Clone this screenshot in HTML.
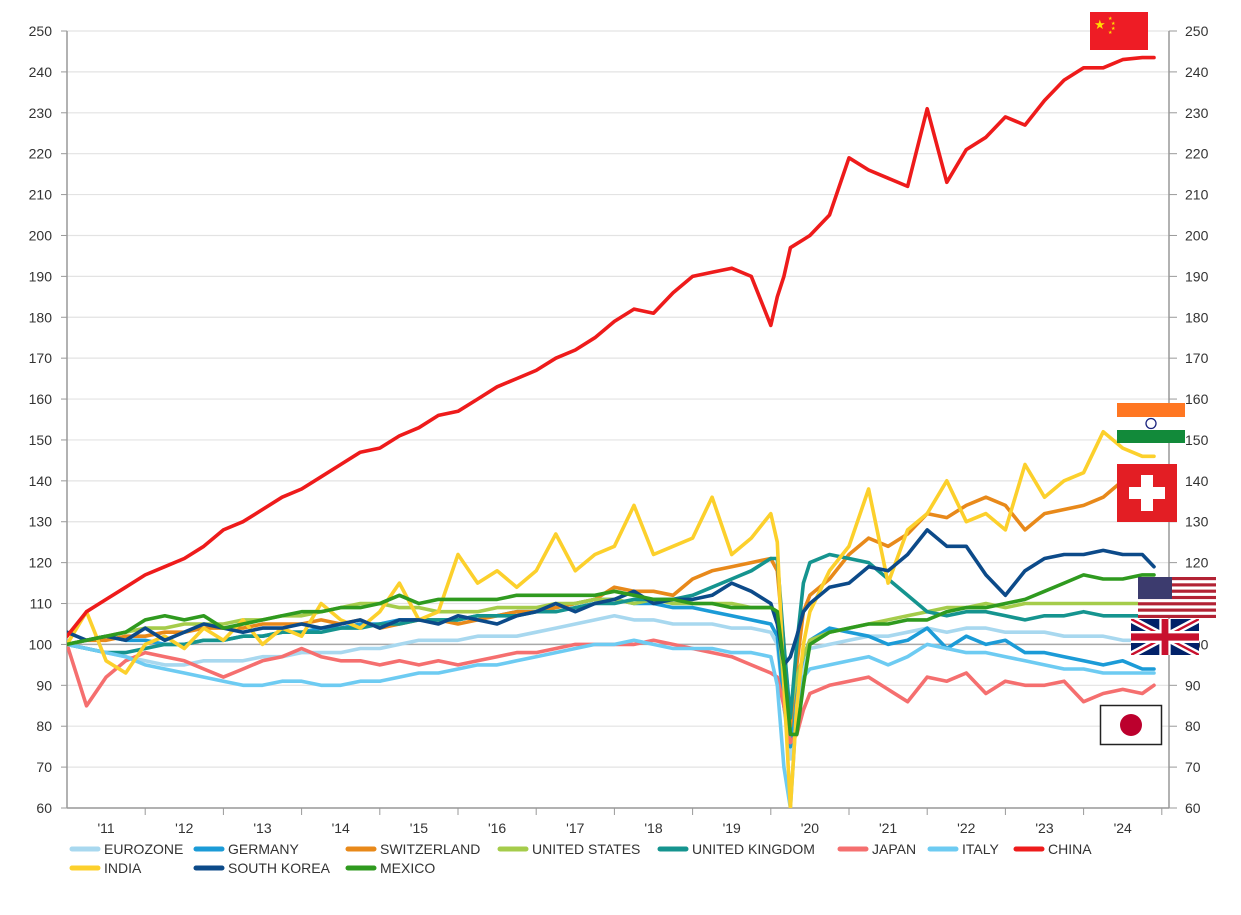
<!DOCTYPE html>
<html><head><meta charset="utf-8"><style>
html,body{margin:0;padding:0;background:#fff;}
svg{display:block;font-family:"Liberation Sans",sans-serif;}
</style></head><body>
<svg id="chart" width="1241" height="915" viewBox="0 0 1241 915">
<g id="grid"></g>
<g id="axes"></g>
<g id="series"></g>
<g id="legend"></g>
<g id="flags">
  <g>
    <rect x="1090" y="12" width="58" height="38" fill="#ee1c25"/>
    <text x="1094" y="29" font-size="13" fill="#ffde00">★</text>
    <text x="1108" y="20" font-size="5" fill="#ffde00">★</text>
    <text x="1111" y="25" font-size="5" fill="#ffde00">★</text>
    <text x="1111" y="30" font-size="5" fill="#ffde00">★</text>
    <text x="1108" y="34" font-size="5" fill="#ffde00">★</text>
  </g>
  <g>
    <rect x="1117" y="403" width="68" height="14" fill="#ff7722"/>
    <rect x="1117" y="417" width="68" height="13" fill="#fff"/>
    <rect x="1117" y="430" width="68" height="13" fill="#128a3a"/>
    <circle cx="1151" cy="423.5" r="5" fill="none" stroke="#1a237e" stroke-width="1.3"/>
  </g>
  <g>
    <rect x="1117" y="464" width="60" height="58" fill="#e31e24"/>
    <rect x="1141" y="475" width="12" height="36" fill="#fff"/>
    <rect x="1129" y="487" width="36" height="12" fill="#fff"/>
  </g>
  <g>
    <rect x="1138" y="577" width="78" height="41" fill="#fff"/>
    <g id="usstripes"></g>
    <rect x="1138" y="577" width="34" height="22" fill="#3c3b6e"/>
  </g>
  <g>
    <svg x="1131" y="619" width="68" height="36" viewBox="0 0 60 30" preserveAspectRatio="none">
      <rect width="60" height="30" fill="#012169"/>
      <path d="M0,0 L60,30 M60,0 L0,30" stroke="#fff" stroke-width="6"/>
      <path d="M0,0 L60,30 M60,0 L0,30" stroke="#c8102e" stroke-width="2"/>
      <path d="M30,0 V30 M0,15 H60" stroke="#fff" stroke-width="10"/>
      <path d="M30,0 V30 M0,15 H60" stroke="#c8102e" stroke-width="6"/>
    </svg>
  </g>
  <g>
    <rect x="1100.5" y="705.5" width="61" height="39" fill="#fff" stroke="#222" stroke-width="1.5"/>
    <circle cx="1131" cy="725" r="11" fill="#bc002d"/>
  </g>
</g>
</svg>
<script>
const NS='http://www.w3.org/2000/svg';
const T=[2011,2011.25,2011.5,2011.75,2012,2012.25,2012.5,2012.75,2013,2013.25,2013.5,2013.75,2014,2014.25,2014.5,2014.75,2015,2015.25,2015.5,2015.75,2016,2016.25,2016.5,2016.75,2017,2017.25,2017.5,2017.75,2018,2018.25,2018.5,2018.75,2019,2019.25,2019.5,2019.75,2020,2020.083,2020.167,2020.25,2020.333,2020.417,2020.5,2020.75,2021,2021.25,2021.5,2021.75,2022,2022.25,2022.5,2022.75,2023,2023.25,2023.5,2023.75,2024,2024.25,2024.5,2024.75,2024.9];
const eurozone=[100,99,98,97,96,95,95,96,96,96,97,97,98,98,98,99,99,100,101,101,101,102,102,102,103,104,105,106,107,106,106,105,105,105,104,104,103,100,85,72,88,95,99,100,101,102,102,103,104,103,104,104,103,103,103,102,102,102,101,101,101];
const germany=[100,101,102,101,101,100,100,101,101,102,102,103,103,104,104,105,105,106,106,106,106,107,107,108,108,109,110,111,111,110,110,109,109,108,107,106,105,102,85,75,90,97,101,104,103,102,100,101,104,99,102,100,101,98,98,97,96,95,96,94,94];
const switzerland=[100,101,101,102,102,103,103,104,104,104,105,105,105,106,105,106,104,105,106,106,105,106,107,108,108,109,110,111,114,113,113,112,116,118,119,120,121,118,100,80,95,108,112,116,122,126,124,127,132,131,134,136,134,128,132,133,134,136,140,140,139];
const unitedStates=[100,101,102,103,104,104,105,105,105,106,106,107,107,108,109,110,110,109,109,108,108,108,109,109,109,110,110,111,111,110,111,110,110,110,110,109,109,108,90,84,92,97,101,103,104,105,106,107,108,109,109,110,109,110,110,110,110,110,110,110,110];
const unitedKingdom=[100,99,98,98,99,100,100,101,101,102,102,103,103,103,104,104,105,105,106,106,106,107,107,107,108,108,109,110,110,111,111,111,112,114,116,118,121,121,100,82,100,115,120,122,121,120,116,112,108,107,108,108,107,106,107,107,108,107,107,107,107];
const japan=[100,85,92,96,98,97,96,94,92,94,96,97,99,97,96,96,95,96,95,96,95,96,97,98,98,99,100,100,100,100,101,100,99,98,97,95,93,92,85,76,78,84,88,90,91,92,89,86,92,91,93,88,91,90,90,91,86,88,89,88,90];
const italy=[100,99,98,97,95,94,93,92,91,90,90,91,91,90,90,91,91,92,93,93,94,95,95,96,97,98,99,100,100,101,100,99,99,99,98,98,97,90,70,60,85,92,94,95,96,97,95,97,100,99,98,98,97,96,95,94,94,93,93,93,93];
const china=[102,108,111,114,117,119,121,124,128,130,133,136,138,141,144,147,148,151,153,156,157,160,163,165,167,170,172,175,179,182,181,186,190,191,192,190,178,185,190,197,198,199,200,205,219,216,214,212,231,213,221,224,229,227,233,238,241,241,243,243.5,243.5];
const india=[100,108,96,93,100,102,99,104,101,106,100,104,102,110,106,104,108,115,106,108,122,115,118,114,118,127,118,122,124,134,122,124,126,136,122,126,132,125,90,60,85,100,108,118,124,138,115,128,132,140,130,132,128,144,136,140,142,152,148,146,146];
const southKorea=[103,101,102,101,104,101,103,105,104,103,104,104,105,104,105,106,104,106,106,105,107,106,105,107,108,110,108,110,111,113,110,111,111,112,115,113,110,105,95,97,102,108,110,114,115,119,118,122,128,124,124,117,112,118,121,122,122,123,122,122,119];
const mexico=[100,101,102,103,106,107,106,107,104,105,106,107,108,108,109,109,110,112,110,111,111,111,111,112,112,112,112,112,113,112,111,111,110,110,109,109,109,108,95,78,78,90,100,103,104,105,105,106,106,108,109,109,110,111,113,115,117,116,116,117,117];
const yTicks=[60,70,80,90,100,110,120,130,140,150,160,170,180,190,200,210,220,230,240,250];
const xYears=[2011,2012,2013,2014,2015,2016,2017,2018,2019,2020,2021,2022,2023,2024];
const xLabels=["'11","'12","'13","'14","'15","'16","'17","'18","'19","'20","'21","'22","'23","'24"];

const X0=67,X1=1169,Y0=808,Y1=31;
function xs(t){return X0+(t-2011)*78.2;}
function ys(v){return Y0-(v-60)*(Y0-Y1)/190;}
function mk(tag,attrs,parent){const e=document.createElementNS(NS,tag);for(const k in attrs)e.setAttribute(k,attrs[k]);parent.appendChild(e);return e;}

const grid=document.getElementById('grid'),axes=document.getElementById('axes');
yTicks.forEach(v=>{
  const y=ys(v);
  const gl=mk('line',{x1:X0,x2:X1,y1:y,y2:y,stroke:v===100?'#a8a8a8':'#e3e3e3','stroke-width':v===100?1.5:1.2},grid);
  
  
  const tl=mk('text',{x:52,y:y+5,'text-anchor':'end','font-size':14,fill:'#333'},axes);
  tl.textContent=v;
  
  
  const tr=mk('text',{x:1185,y:y+5,'font-size':14,fill:'#333'},axes);
  tr.textContent=v;
  
  
  mk('line',{x1:X0-6,x2:X0,y1:y,y2:y,stroke:'#999'},axes);
  mk('line',{x1:X1,x2:X1+8,y1:y,y2:y,stroke:'#999'},axes);
});
mk('line',{x1:X0,x2:X0,y1:Y1,y2:Y0,stroke:'#999','stroke-width':1.5},axes);
mk('line',{x1:X1,x2:X1,y1:Y1,y2:Y0,stroke:'#999','stroke-width':1.5},axes);
mk('line',{x1:X0,x2:X1,y1:Y0,y2:Y0,stroke:'#999','stroke-width':1.5},axes);
xYears.forEach((yr,i)=>{
  if(i>0) mk('line',{x1:xs(yr),x2:xs(yr),y1:Y0,y2:Y0+7,stroke:'#999'},axes);
  const t=mk('text',{x:xs(yr+0.5),y:833,'text-anchor':'middle','font-size':14,fill:'#333'},axes);
  t.textContent=xLabels[i];
  
  
});
mk('line',{x1:xs(2025),x2:xs(2025),y1:Y0,y2:Y0+7,stroke:'#999'},axes);

const seriesList=[
 ['eurozone','EUROZONE',eurozone,'#a8d8ef'],
 ['germany','GERMANY',germany,'#1b9bd7'],
 ['switzerland','SWITZERLAND',switzerland,'#e8891a'],
 ['united-states','UNITED STATES',unitedStates,'#a5cc4b'],
 ['united-kingdom','UNITED KINGDOM',unitedKingdom,'#15948f'],
 ['japan','JAPAN',japan,'#f56f6f'],
 ['italy','ITALY',italy,'#6dcbf2'],
 ['india','INDIA',india,'#fcd02c'],
 ['south-korea','SOUTH KOREA',southKorea,'#0c4a89'],
 ['mexico','MEXICO',mexico,'#2f9a1f'],
 ['china','CHINA',china,'#ee1b1b']
];
const sg=document.getElementById('series');
const clip=mk('clipPath',{id:'pc'},sg);mk('rect',{x:X0,y:Y1-20,width:X1-X0,height:Y0-Y1+20},clip);
seriesList.forEach(s=>{
  const d=s[2].map((v,i)=>(i?'L':'M')+xs(T[i]).toFixed(1)+','+ys(v).toFixed(1)).join(' ');
  const p=mk('path',{d:d,fill:'none',stroke:s[3],'stroke-width':3.6,'stroke-linejoin':'round','stroke-linecap':'round','clip-path':'url(#pc)'},sg);
  
  
});

const lg=document.getElementById('legend');
const legPos={eurozone:[72,854],germany:[196,854],switzerland:[348,854],'united-states':[500,854],'united-kingdom':[660,854],japan:[840,854],italy:[930,854],china:[1016,854],india:[72,873],'south-korea':[196,873],mexico:[348,873]};
seriesList.forEach(s=>{
  const p=legPos[s[0]];
  const g=mk('g',{},lg);
  
  
  mk('line',{x1:p[0],x2:p[0]+26,y1:p[1]-5,y2:p[1]-5,stroke:s[3],'stroke-width':5,'stroke-linecap':'round'},g);
  const t=mk('text',{x:p[0]+32,y:p[1],'font-size':14,fill:'#333'},g);
  t.textContent=s[1];
});

const us=document.getElementById('usstripes');
for(let i=0;i<13;i+=2){mk('rect',{x:1138,y:577+i*41/13,width:78,height:41/13,fill:'#b22234'},us);}
</script>
</body></html>
